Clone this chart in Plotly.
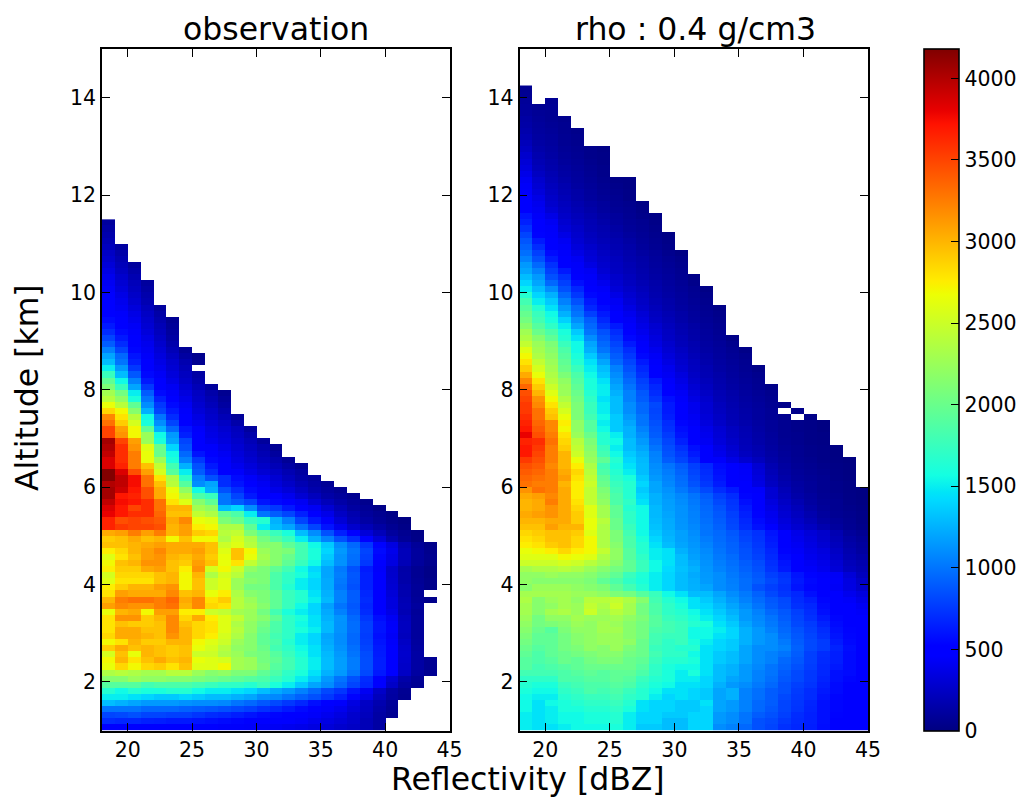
import plotly.graph_objects as go

# Reflectivity bin edges start at 18 dBZ (1 dBZ bins), altitude bins start at 1 km (0.125 km)
x_start, x_step, n_cols = 18, 1, 27
y_start, y_step = 1, 0.125

X_TICKS = [20, 25, 30, 35, 40, 45]
Y_TICKS = [2, 4, 6, 8, 10, 12, 14]
CB_TICKS = [0, 500, 1000, 1500, 2000, 2500, 3000, 3500, 4000]
VMAX = 4180

# bottom row first
observation = [
[520,520,500,500,480,480,480,470,460,450,450,440,430,420,400,380,350,320,280,250,200,130],
[700,680,680,650,640,620,620,600,580,560,540,520,500,480,460,440,400,360,320,270,200,130],
[800,820,850,800,800,780,780,740,700,680,640,600,560,540,500,470,440,400,350,280,220,130,70],
[1000,1000,1000,950,950,950,920,900,880,850,820,780,720,680,620,560,500,440,400,320,240,150,80],
[1300,1250,1200,1150,1150,1150,1120,1100,1100,1080,1000,950,880,820,750,680,580,500,450,350,250,170,90],
[1500,1500,1450,1400,1350,1350,1400,1350,1300,1300,1250,1200,1100,1080,1000,920,850,750,650,530,370,220,120,60],
[1650,1550,1650,1600,1600,1650,1650,1550,1500,1500,1450,1400,1300,1220,1150,1050,950,820,740,600,420,260,130,70],
[1900,1900,1900,1800,1850,1850,1850,1800,1750,1700,1700,1650,1750,1600,1500,1350,1200,1100,950,800,680,470,260,120,70],
[2150,2150,2250,2200,2200,2150,2150,2100,2050,2000,1950,1900,1850,1750,1650,1500,1350,1150,1000,850,700,500,300,150,80],
[2350,2400,2350,2300,2300,2400,2400,2250,2150,2200,2100,2100,1950,1850,1700,1600,1450,1250,1150,1000,820,620,460,250,120,70],
[2650,2850,2700,2850,2900,2800,2950,2600,2600,2700,2300,2250,2100,1900,1800,1650,1500,1300,1170,1030,840,640,470,260,130,70],
[2700,3000,2800,2950,3050,2950,3000,2650,2600,2550,2300,2250,2050,1950,1800,1650,1500,1300,1170,1030,840,640,470,270,130,70],
[2550,2950,2650,3000,2950,2900,2950,2500,2500,2350,2250,2100,2050,1900,1750,1600,1450,1280,1150,1000,830,630,470,280,130],
[2900,3050,2950,3000,2950,2900,2950,2650,2550,2400,2200,2150,2000,1800,1700,1550,1450,1250,1120,980,800,620,460,270,120],
[2700,2800,3000,2900,2900,3000,3000,2700,2600,2500,2250,2150,1950,1850,1650,1500,1400,1220,1100,950,780,600,450,250,110],
[2850,3050,3050,3000,2950,3150,3000,2850,2750,2550,2350,2150,1950,1800,1700,1500,1400,1200,1100,950,770,580,430,220,100],
[2800,3050,3050,2950,2950,3200,3000,2850,2800,2600,2400,2200,2000,1850,1700,1600,1500,1280,1120,970,780,600,450,230,100],
[2800,2950,2900,2900,2950,3200,2950,2850,2800,2600,2350,2200,2050,1850,1700,1550,1450,1280,1120,970,780,600,440,230,100],
[2800,3150,3150,2900,3000,3200,2850,3050,2750,2600,2450,2250,2150,1950,1700,1600,1450,1250,1130,950,750,570,420,220,100],
[2650,3000,3050,2700,3100,3100,2750,2750,2500,2450,2300,2250,2050,1800,1600,1500,1400,1220,1050,900,700,520,370,190,90],
[3100,3200,3150,3150,3250,3300,3000,3200,2850,2800,2400,2300,2150,1950,1750,1550,1400,1180,1000,880,680,470,340,200,110],
[3000,3250,3300,3300,3250,3350,3050,3200,2800,2900,2400,2250,2100,1950,1750,1650,1500,1280,1050,900,700,480,340,190,90,40],
[2800,3100,3050,3050,3050,3200,2950,3000,2650,2750,2350,2150,2100,1950,1750,1650,1450,1250,1050,900,680,470,320,170,80],
[2750,2900,3000,3000,3100,3150,2700,2950,2500,2600,2250,2050,2050,1850,1650,1500,1400,1220,1000,850,650,470,300,170,90,40],
[2600,2800,2800,2800,2950,3000,2700,2950,2500,2600,2250,2150,2100,1850,1700,1500,1400,1220,1020,870,650,460,290,150,80,40],
[2550,2850,2850,2850,2950,3000,2700,3000,2350,2550,2400,2100,2100,1850,1700,1600,1450,1200,1040,880,650,460,280,150,70,30],
[2750,2900,2900,3050,3100,2950,2750,3150,2550,2700,2500,2200,2100,1950,1800,1550,1400,1200,1020,850,630,450,270,140,70,30],
[2700,2950,3000,3150,3150,2950,2900,3100,2950,2650,2800,2450,2250,2150,1950,1750,1550,1300,1120,960,750,520,350,200,100,50],
[2600,2800,2950,3100,3150,3000,2950,3050,2900,2650,2950,2650,2300,2150,2000,1800,1600,1350,1120,980,780,540,370,210,110,60],
[2750,2850,3000,3100,3200,3050,3050,3100,2950,2600,2950,2700,2250,2150,2100,1800,1600,1400,1150,1000,800,560,390,210,110,50],
[2950,2950,3000,3050,3100,3050,3050,3050,2950,2500,2600,2400,2150,2150,1950,1800,1550,1350,1100,950,740,530,350,180,90,40],
[2900,2950,3050,2950,3000,2700,2950,2700,2700,2350,2550,2350,2050,1900,1750,1500,1250,1050,850,700,480,320,170,80,30],
[3050,3100,3250,3100,3250,3000,3100,2900,2850,2400,2450,2100,1900,1750,1600,1300,1100,850,650,470,320,210,110,60,25],
[3650,3550,3500,3500,3450,3000,3100,2750,2700,2350,2350,1950,1500,1300,1200,1000,800,600,400,280,200,130,70,30],
[3650,3450,3500,3450,3400,3050,3200,2650,2600,2100,2000,1750,1650,1250,1050,800,620,450,310,200,130,80,40,15],
[3800,3700,3600,3600,3350,2950,2950,2450,2350,1950,1850,1500,1000,900,800,650,520,380,250,170,100,60,30],
[3850,3700,3500,3600,3300,3000,3000,2300,2200,1300,1400,1100,800,750,620,520,420,300,200,120,80,30],
[3950,3750,3700,3600,3300,2800,2600,2150,1950,1000,900,800,600,550,500,420,300,210,140,90,50],
[4050,3700,3650,3450,3050,2700,2400,1850,1750,1000,800,620,500,480,400,300,220,140,100,60],
[4050,3900,3700,3450,3050,2650,2200,1550,1250,850,700,560,450,380,320,240,160,110,70],
[4000,3950,3750,3300,2950,2400,1900,1100,1200,700,600,500,420,330,260,190,130,80],
[4170,3950,3750,3300,2800,2350,1700,1050,850,700,560,440,380,300,220,150,100],
[4170,3850,3450,3100,2550,1900,1500,900,700,500,450,370,300,250,180,120],
[3850,3650,3250,2950,2450,1800,1250,850,620,480,400,330,260,200,130,70],
[3850,3600,3250,2650,2250,1600,1050,750,550,450,360,290,220,160,80],
[3950,3600,3250,2650,2000,1550,950,600,500,420,330,260,190,110],
[4000,3600,3150,2600,2000,1400,850,500,450,380,300,230,160,70],
[4050,3500,3100,2250,1600,1200,800,480,400,340,270,200,100],
[3500,3150,2700,2250,1550,1150,650,460,370,320,240,160],
[3500,3100,2700,1950,1250,950,600,450,350,290,220,110],
[3300,2900,2550,1600,1100,800,520,400,310,250,150],
[3200,2800,2400,1550,1000,700,470,360,270,200,90],
[2850,2700,2150,1250,800,620,450,320,250,160],
[2650,2400,1950,1100,750,560,420,290,210,120],
[2400,2200,1600,1000,650,480,380,260,180,90],
[2300,2050,1500,900,560,440,340,240,150,60],
[2100,1750,1200,750,480,420,300,200,100],
[1950,1550,1050,620,470,370,260,160],
[1750,1300,880,550,430,330,230,130],
[1500,1150,750,490,400,300,200,None],
[1300,1000,650,480,370,280,170,60],
[1200,950,600,440,340,240,120,50],
[1050,800,540,420,310,200,80],
[900,700,480,400,280,160],
[800,620,470,370,250,130],
[700,560,450,330,220,110],
[620,500,430,300,200,90],
[560,470,400,280,170,70],
[520,450,370,250,140],
[490,420,330,220,110],
[480,400,290,180],
[460,370,260,160],
[440,330,230,130],
[420,300,210,110],
[400,280,180],
[360,240,150],
[320,210,110],
[280,180],
[250,150],
[220,120],
[190],
[160],
[130],
[100],
]

# top row first
rho_04 = [
[60],
[70],
[90,None,70],
[100,70,80],
[110,80,70],
[130,90,70,50],
[140,100,80,60],
[160,110,90,60,40],
[180,120,100,70,50],
[210,130,110,70,50],
[240,150,120,80,60,40,20],
[280,170,130,90,70,40,30],
[310,190,150,100,80,50,30],
[340,210,160,120,90,60,40],
[380,240,180,130,100,70,40],
[420,280,200,150,110,80,50,30,20],
[440,300,220,170,120,90,60,40,20],
[450,330,240,180,140,100,70,50,30],
[470,370,260,200,150,110,80,60,30],
[500,400,280,220,170,130,100,70,50,20],
[520,420,310,240,190,150,110,80,60,30],
[600,440,370,260,210,170,130,100,70,40,20],
[650,460,420,290,230,190,150,110,80,60,30],
[720,480,440,320,260,200,170,130,90,70,40],
[800,530,450,370,280,220,180,150,110,80,50,20],
[870,620,470,420,300,240,200,170,130,90,60,30],
[920,700,500,440,330,270,220,180,150,100,70,40],
[980,780,560,450,370,300,240,200,160,120,90,50,20],
[1050,850,630,470,420,320,260,220,170,140,100,70,40],
[1150,950,720,520,440,360,280,230,190,150,110,80,50],
[1200,1050,780,620,450,420,300,240,200,160,120,90,60],
[1300,1150,850,720,500,440,340,270,220,170,130,100,70,30],
[1400,1200,950,780,580,450,400,290,230,190,150,110,80,40],
[1500,1300,1100,850,680,490,440,320,260,210,160,120,90,60,20],
[1650,1400,1250,950,750,550,470,370,290,230,170,130,100,70,40],
[1800,1500,1350,1050,850,620,490,420,320,250,190,150,110,80,50],
[1900,1650,1450,1150,950,680,560,440,360,270,210,160,120,90,60,30],
[1980,1750,1550,1250,1000,780,620,470,400,310,230,180,140,100,70,40],
[2050,1800,1600,1380,1100,900,680,520,430,340,250,200,150,110,80,50],
[2150,1900,1700,1500,1200,950,750,620,450,370,290,220,170,130,90,60],
[2280,2000,1850,1600,1350,1000,850,700,480,400,310,240,180,140,100,70],
[2350,2150,1950,1650,1450,1100,900,750,550,430,340,250,200,150,110,80,30],
[2450,2250,2100,1750,1550,1200,950,800,620,450,360,280,210,170,120,90,50],
[2600,2300,2150,1850,1550,1250,1000,850,700,480,400,300,240,180,130,100,70,30],
[2700,2350,2200,1900,1600,1350,1100,900,750,550,430,330,260,200,150,110,80,50],
[2800,2450,2250,1950,1650,1450,1200,950,800,620,450,360,280,220,160,120,90,60],
[2900,2550,2300,2000,1750,1500,1300,1050,850,680,480,400,300,230,180,130,100,70,30],
[3050,2650,2350,2100,1850,1550,1350,1100,900,720,520,420,340,250,190,150,110,80,50],
[3200,2800,2400,2200,1900,1600,1450,1150,950,780,620,450,370,270,210,160,120,90,60],
[3350,2900,2500,2250,1950,1600,1500,1200,1000,820,680,480,400,300,230,170,130,100,70,30],
[3450,3000,2600,2250,2000,1650,1500,1250,1050,880,700,520,430,330,250,190,150,110,80,50],
[3500,3150,2700,2350,2050,1700,1450,1300,1050,900,750,580,450,360,280,200,160,120,90,60],
[3550,3200,2800,2450,2100,1750,1500,1300,1100,950,820,620,480,400,300,220,170,130,100,70,40],
[3550,3300,2900,2550,2100,1750,1500,1300,1100,950,800,620,480,400,300,230,180,140,110,80,None,40],
[3600,3300,2950,2650,2100,1800,1550,1350,1150,1000,820,640,520,420,320,250,190,150,110,80,50,None,30],
[3650,3350,3200,2750,2200,1900,1500,1350,1200,1000,850,700,540,440,340,260,200,160,120,90,60,40,30,10],
[3700,3400,3200,2700,2200,1900,1550,1350,1250,1050,880,720,570,480,380,300,230,180,130,90,60,40,30,10],
[3800,3450,3250,2800,2250,2000,1650,1500,1250,1100,900,760,600,500,400,310,240,190,140,100,60,50,30,20],
[3650,3600,3300,2850,2400,2100,1650,1550,1300,1150,950,800,650,510,420,330,260,200,150,110,70,50,30,20],
[3700,3550,3250,2900,2450,2150,1750,1500,1300,1200,1000,840,720,580,460,370,290,210,170,120,80,60,40,30,10],
[3700,3500,3250,3000,2500,2200,1800,1550,1350,1250,1050,860,760,620,480,390,310,230,180,130,90,60,40,30,10],
[3550,3450,3250,3000,2650,2250,1950,1650,1400,1280,1070,900,800,680,520,450,370,290,220,150,100,70,50,30,15,5],
[3450,3400,3200,3000,2750,2350,1800,1600,1450,1300,1100,1000,900,780,680,560,470,430,300,180,120,80,60,40,20,10],
[3400,3350,3250,3050,2850,2400,1850,1650,1500,1300,1120,1030,930,800,700,580,480,440,320,200,130,90,70,50,25,10],
[3350,3300,3250,3100,2800,2450,1950,1700,1600,1350,1150,1060,960,830,720,600,490,450,340,220,150,100,80,60,30,15],
[3300,3250,3250,3000,2750,2500,2000,1750,1650,1400,1200,1080,980,860,750,630,510,460,360,240,170,120,90,60,40,20],
[3150,3300,3250,3050,2750,2450,2100,1800,1650,1350,1200,1120,1020,920,820,700,620,500,450,300,200,130,90,60,40,20,10],
[3050,3100,3200,3050,2750,2450,2150,1850,1650,1400,1250,1150,1080,1000,900,780,700,540,460,300,220,150,110,70,50,25,10],
[3000,3050,3250,3050,2800,2450,2200,1850,1700,1450,1250,1170,1100,1020,930,820,730,580,480,340,250,180,120,80,60,30,15],
[3000,3050,3150,3050,2850,2600,2300,1950,1650,1550,1280,1180,1120,1040,950,860,750,620,500,370,280,210,140,90,60,40,20],
[3050,3100,3150,3050,2900,2600,2300,1950,1700,1550,1280,1200,1120,1050,960,880,780,650,530,400,300,230,170,110,70,50,30],
[3000,3000,3050,3050,2900,2650,2400,2000,1700,1550,1300,1220,1130,1060,980,900,800,680,560,420,330,260,200,130,90,60,30],
[2950,2950,3100,3000,3000,2650,2350,2000,1750,1550,1320,1230,1140,1080,1000,920,820,700,590,460,360,290,240,170,110,70,40],
[2850,2900,2950,2950,2900,2600,2350,2100,1800,1550,1350,1250,1180,1100,1000,950,880,780,720,600,480,380,320,270,180,100,70],
[2800,2850,2950,2950,2850,2700,2350,2100,1850,1600,1400,1270,1180,1120,1030,960,900,800,730,620,490,400,340,280,200,130,90],
[2750,2800,2900,2950,2850,2700,2350,2150,1850,1650,1450,1300,1200,1140,1060,980,920,830,750,640,510,420,360,300,220,150,110],
[2650,2700,2750,2850,2750,2700,2450,2200,1900,1650,1500,1450,1250,1160,1090,1000,930,850,770,670,530,440,380,340,250,170,120],
[2600,2600,2600,2700,2650,2600,2350,2200,1900,1700,1500,1450,1300,1180,1110,1020,960,860,790,690,560,460,400,360,270,190,150],
[2500,2500,2500,2550,2500,2400,2300,2150,1950,1750,1550,1450,1300,1210,1120,1040,980,900,830,710,600,490,420,380,300,210,170],
[2300,2350,2350,2400,2350,2250,2150,2050,1950,1750,1550,1420,1320,1250,1140,1060,1000,920,850,730,620,510,440,400,320,230,190],
[2200,2200,2250,2200,2200,2150,2050,1950,1750,1620,1500,1400,1300,1220,1150,1100,1020,950,880,780,720,600,530,450,430,320,220],
[2200,2150,2150,2150,2150,2100,1950,1850,1700,1600,1500,1400,1300,1240,1160,1100,1040,970,900,820,740,620,550,480,440,350,260],
[2150,2250,2250,2250,2200,2150,2100,1950,1800,1650,1500,1400,1300,1250,1200,1100,1050,970,850,780,720,600,540,500,430,360,280],
[2300,2300,2300,2300,2250,2250,2200,2100,2050,1900,1750,1550,1450,1300,1300,1200,1100,1020,920,820,740,680,580,520,470,400,340],
[2350,2150,2250,2300,2200,2400,2400,2450,2350,2150,1800,1650,1550,1450,1350,1250,1150,1050,960,880,820,700,640,540,490,440,380],
[2300,2150,2200,2300,2250,2450,2350,2500,2300,2050,1850,1700,1600,1450,1400,1300,1200,1100,1000,900,830,720,680,560,510,480,420],
[2300,2150,2300,2350,2250,2500,2300,2400,2300,2050,1850,1700,1650,1550,1450,1350,1250,1150,1050,950,880,780,700,580,520,490,440],
[2250,2050,2200,2200,2300,2250,2250,2300,2200,2100,1900,1750,1700,1600,1500,1400,1300,1150,1080,1000,900,800,720,620,540,500,460],
[2200,2050,2100,2150,2250,2200,2300,2250,2150,2050,1900,1800,1750,1650,1600,1450,1350,1200,1100,1020,930,820,760,660,560,520,470],
[2150,2000,1900,2100,2200,2200,2300,2300,2150,2050,1850,1800,1750,1550,1550,1500,1400,1250,1150,1050,950,860,780,700,580,530,470],
[2100,1950,1950,2050,2150,2200,2250,2250,2150,2050,1800,1750,1750,1550,1550,1450,1400,1250,1150,1100,980,880,800,720,600,540,480],
[2050,1950,1950,2050,2150,2200,2250,2250,2200,2000,1800,1700,1750,1600,1500,1400,1350,1250,1150,1100,1020,900,820,760,630,550,490],
[2000,1900,1950,2050,2100,2200,2150,2250,2100,2000,1750,1700,1650,1650,1450,1400,1350,1200,1100,1100,1050,920,820,760,660,570,500],
[1950,1850,1950,2000,2050,2100,2150,2150,2050,2000,1800,1700,1700,1550,1450,1350,1300,1200,1100,1050,1000,900,780,700,640,560,510],
[1900,1850,1900,2000,1950,2050,2100,2100,2000,1950,1750,1650,1650,1600,1450,1350,1300,1200,1100,1050,950,880,780,690,640,560,510],
[1900,1800,1850,1900,1950,2000,2000,2000,2000,1900,1700,1600,1550,1550,1450,1300,1250,1150,1080,1000,930,850,770,680,620,560,510],
[1800,1800,1800,1850,1900,1950,1900,1950,1950,1850,1700,1600,1500,1600,1450,1300,1250,1150,1050,1000,900,820,750,680,580,560,510],
[1700,1700,1700,1850,1850,1900,1900,1950,1900,1750,1650,1600,1500,1500,1400,1300,1200,1150,1050,980,880,820,750,660,580,540,510],
[1650,1600,1600,1750,1800,1850,1850,1900,1850,1700,1600,1550,1450,1450,1400,1250,1150,1100,1020,950,850,780,730,640,560,520,500],
[1600,1550,1550,1700,1750,1850,1800,1850,1750,1650,1550,1450,1450,1400,1350,1200,1250,1050,980,900,850,760,700,620,560,510,490],
[1550,1500,1500,1650,1700,1750,1750,1800,1700,1650,1500,1400,1450,1400,1350,1200,1250,1050,980,900,820,750,700,600,540,500,490],
[1550,1450,1550,1600,1650,1700,1700,1750,1650,1450,1400,1400,1350,1350,1450,1200,1150,1050,950,900,800,740,670,580,540,500,490],
[1550,1450,1500,1600,1600,1650,1650,1700,1600,1450,1400,1400,1350,1350,1400,1200,1150,1050,950,880,800,730,660,580,540,490,490],
[1500,1450,1500,1550,1550,1600,1600,1650,1500,1400,1400,1350,1350,1400,1400,1150,1100,1000,900,850,780,700,650,580,530,490,480],
[1500,1450,1500,1550,1550,1600,1600,1650,1500,1400,1400,1300,1300,1400,1400,1150,1100,1000,850,820,750,690,650,580,520,490,480],
[1500,1450,1450,1500,1550,1550,1550,1600,1500,1350,1350,1300,1300,1400,1400,1100,1050,950,850,800,720,680,640,570,510,490,470],
]

# matplotlib "jet"
JET = [
    [0.0, "rgb(0,0,128)"], [0.11, "rgb(0,0,255)"], [0.125, "rgb(0,0,255)"],
    [0.34, "rgb(0,219,255)"], [0.35, "rgb(0,229,247)"], [0.375, "rgb(20,255,226)"],
    [0.64, "rgb(237,255,4)"], [0.65, "rgb(246,245,0)"], [0.66, "rgb(255,236,0)"],
    [0.89, "rgb(255,18,0)"], [0.91, "rgb(232,0,0)"], [1.0, "rgb(128,0,0)"],
]


def pad(rows):
    return [(list(r) + [None] * n_cols)[:n_cols] for r in rows]


x_centers = [x_start + x_step * (i + 0.5) for i in range(n_cols)]
z_obs = pad(observation)
z_rho = pad(rho_04[::-1])
y_obs = [y_start + y_step * (i + 0.5) for i in range(len(z_obs))]
y_rho = [y_start + y_step * (i + 0.5) for i in range(len(z_rho))]

W, H = 1027, 797
FONT = "DejaVu Sans"
fig = go.Figure()
fig.add_trace(go.Heatmap(x=x_centers, y=y_obs, z=z_obs, coloraxis="coloraxis",
                         hoverongaps=False, xaxis="x", yaxis="y"))
fig.add_trace(go.Heatmap(x=x_centers, y=y_rho, z=z_rho, coloraxis="coloraxis",
                         hoverongaps=False, xaxis="x2", yaxis="y2"))

axis_common = dict(showgrid=False, zeroline=False, showline=True, linecolor="black", linewidth=1.6,
                   mirror="ticks", ticks="inside", ticklen=8, tickwidth=1, tickcolor="black",
                   tickfont=dict(family=FONT, size=20.5, color="black"))
PY0, PY1 = (H - 730.5) / H, (H - 49) / H
fig.update_layout(
    width=W, height=H, margin=dict(l=0, r=0, t=0, b=0, autoexpand=False),
    paper_bgcolor="white", plot_bgcolor="white", font=dict(family=FONT, color="black"),
    xaxis=dict(domain=[102 / W, 449.5 / W], range=[18, 45], tickvals=X_TICKS, anchor="y", **axis_common),
    yaxis=dict(domain=[PY0, PY1], range=[1, 15], tickvals=Y_TICKS, anchor="x", **axis_common),
    xaxis2=dict(domain=[519.5 / W, 868 / W], range=[18, 45], tickvals=X_TICKS, anchor="y2", **axis_common),
    yaxis2=dict(domain=[PY0, PY1], range=[1, 15], tickvals=Y_TICKS, anchor="x2", **axis_common),
    coloraxis=dict(
        cmin=0, cmax=VMAX, colorscale=JET,
        colorbar=dict(x=924 / W, xanchor="left", xpad=0, y=PY1, yanchor="top", ypad=0,
                      len=PY1 - PY0, lenmode="fraction", thickness=35, thicknessmode="pixels",
                      tickvals=CB_TICKS, ticks="inside", ticklen=8, tickwidth=1, tickcolor="black",
                      tickprefix="\u00a0\u2009",
                      outlinecolor="black", outlinewidth=1.6,
                      tickfont=dict(family=FONT, size=20.5, color="black")),
    ),
    annotations=[
        dict(text="observation", x=276 / W, y=(H - 29) / H, xref="paper", yref="paper", showarrow=False,
             xanchor="center", yanchor="middle", font=dict(family=FONT, size=31.5)),
        dict(text="rho : 0.4 g/cm3", x=695 / W, y=(H - 29) / H, xref="paper", yref="paper", showarrow=False,
             xanchor="center", yanchor="middle", font=dict(family=FONT, size=31.5)),
        dict(text="Reflectivity [dBZ]", x=528 / W, y=(H - 779) / H, xref="paper", yref="paper", showarrow=False,
             xanchor="center", yanchor="middle", font=dict(family=FONT, size=31.5)),
        dict(text="Altitude [km]", x=27 / W, y=(H - 388) / H, xref="paper", yref="paper", showarrow=False,
             xanchor="center", yanchor="middle", textangle=-90, font=dict(family=FONT, size=31.5)),
    ],
)

fig.write_html("out.html", config=dict(displayModeBar=False),
               post_script="document.body.style.margin='0';document.body.style.overflow='hidden';")
